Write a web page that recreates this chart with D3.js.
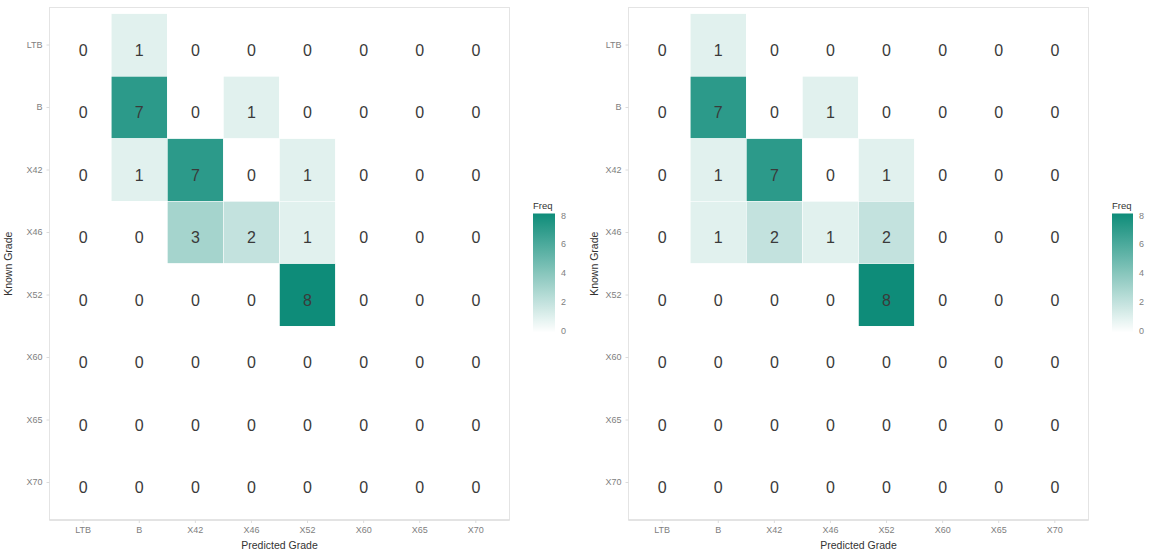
<!DOCTYPE html>
<html>
<head>
<meta charset="utf-8">
<script src="https://cdn.jsdelivr.net/npm/d3@7"></script>
<style>
  html, body { margin: 0; padding: 0; background: #ffffff; }
  svg { display: block; font-family: "Liberation Sans", Arial, Helvetica, sans-serif; }
</style>
</head>
<body>
<svg id="chart" width="1151" height="555"></svg>
<script>
// Grade categories (predicted along x, known along y)
const predictedGrades = ["LTB", "B", "X42", "X46", "X52", "X60", "X65", "X70"];
const knownGrades = ["LTB", "B", "X42", "X46", "X52", "X60", "X65", "X70"];

// Confusion counts, one row per known grade (columns follow predictedGrades)
const freqLeft = [
  [0, 1, 0, 0, 0, 0, 0, 0],
  [0, 7, 0, 1, 0, 0, 0, 0],
  [0, 1, 7, 0, 1, 0, 0, 0],
  [0, 0, 3, 2, 1, 0, 0, 0],
  [0, 0, 0, 0, 8, 0, 0, 0],
  [0, 0, 0, 0, 0, 0, 0, 0],
  [0, 0, 0, 0, 0, 0, 0, 0],
  [0, 0, 0, 0, 0, 0, 0, 0]
];
const freqRight = [
  [0, 1, 0, 0, 0, 0, 0, 0],
  [0, 7, 0, 1, 0, 0, 0, 0],
  [0, 1, 7, 0, 1, 0, 0, 0],
  [0, 1, 2, 1, 2, 0, 0, 0],
  [0, 0, 0, 0, 8, 0, 0, 0],
  [0, 0, 0, 0, 0, 0, 0, 0],
  [0, 0, 0, 0, 0, 0, 0, 0],
  [0, 0, 0, 0, 0, 0, 0, 0]
];
const legendTicks = [0, 2, 4, 6, 8];
const freqDomain = [0, 8];

const svg = d3.select("#chart");

const color = d3.scaleLinear()
  .domain(freqDomain)
  .range(["#ffffff", "#0e8c79"])
  .interpolate(d3.interpolateRgb);

// linear gradient used by both colour bars
const defs = svg.append("defs");
const grad = defs.append("linearGradient")
  .attr("id", "freqGrad")
  .attr("x1", 0).attr("y1", 1).attr("x2", 0).attr("y2", 0);
d3.range(0, 1.0001, 0.05).forEach(t => {
  grad.append("stop")
    .attr("offset", t)
    .attr("stop-color", color(freqDomain[0] + t * (freqDomain[1] - freqDomain[0])));
});

function drawPanel(matrix, frame, legend, yTitleX) {
  const g = svg.append("g");

  const x = d3.scaleBand()
    .domain(predictedGrades)
    .range([frame.x0, frame.x1])
    .paddingInner(0).paddingOuter(0.1);
  const y = d3.scaleBand()
    .domain(knownGrades)
    .range([frame.y0, frame.y1])
    .paddingInner(0).paddingOuter(0.1);

  const cells = [];
  matrix.forEach((row, i) => row.forEach((v, j) => {
    cells.push({ known: knownGrades[i], predicted: predictedGrades[j], freq: v });
  }));

  // panel border
  g.append("rect")
    .attr("x", frame.x0).attr("y", frame.y0)
    .attr("width", frame.x1 - frame.x0).attr("height", frame.y1 - frame.y0)
    .attr("fill", "#ffffff")
    .attr("stroke", "#e4e4e4").attr("stroke-width", 1);

  // tiles
  g.selectAll("rect.tile")
    .data(cells)
    .join("rect")
    .attr("class", "tile")
    .attr("x", d => x(d.predicted))
    .attr("y", d => y(d.known))
    .attr("width", x.bandwidth())
    .attr("height", y.bandwidth())
    .attr("fill", d => color(d.freq))
    .attr("stroke", "#ffffff")
    .attr("stroke-width", 0.5);

  // count labels
  g.selectAll("text.count")
    .data(cells)
    .join("text")
    .attr("class", "count")
    .attr("x", d => x(d.predicted) + x.bandwidth() / 2)
    .attr("y", d => y(d.known) + y.bandwidth() / 2 + 5)
    .attr("text-anchor", "middle")
    .attr("dominant-baseline", "central")
    .attr("font-size", 16)
    .attr("fill", "#3a3a3a")
    .text(d => d.freq);

  // bottom axis line (slightly darker)
  g.append("line")
    .attr("x1", frame.x0).attr("x2", frame.x1)
    .attr("y1", frame.y1).attr("y2", frame.y1)
    .attr("stroke", "#d6d6d6").attr("stroke-width", 1.2);

  // x axis
  const xAxis = g.append("g")
    .attr("transform", `translate(0,${frame.y1})`)
    .call(d3.axisBottom(x).tickSize(3).tickPadding(4));
  xAxis.select(".domain").remove();
  xAxis.selectAll(".tick line").attr("stroke", "#dcdcdc");
  xAxis.selectAll(".tick text")
    .attr("font-size", 9).attr("fill", "#808080")
    .attr("font-family", "Liberation Sans, Arial, sans-serif");

  // y axis
  const yAxis = g.append("g")
    .attr("transform", `translate(${frame.x0},0)`)
    .call(d3.axisLeft(y).tickSize(3).tickPadding(4));
  yAxis.select(".domain").remove();
  yAxis.selectAll(".tick line").attr("stroke", "#dcdcdc");
  yAxis.selectAll(".tick text")
    .attr("font-size", 9).attr("fill", "#808080")
    .attr("font-family", "Liberation Sans, Arial, sans-serif");

  // axis titles
  g.append("text")
    .attr("x", (frame.x0 + frame.x1) / 2)
    .attr("y", 549)
    .attr("text-anchor", "middle")
    .attr("font-size", 10.5)
    .attr("fill", "#333333")
    .text("Predicted Grade");

  g.append("text")
    .attr("transform", `translate(${yTitleX},${(frame.y0 + frame.y1) / 2}) rotate(-90)`)
    .attr("text-anchor", "middle")
    .attr("font-size", 10.5)
    .attr("fill", "#333333")
    .text("Known Grade");

  // colour bar legend
  const ly = d3.scaleLinear().domain(freqDomain).range([legend.yBottom, legend.yTop]);
  g.append("text")
    .attr("x", legend.x)
    .attr("y", legend.yTop - 7)
    .attr("font-size", 9.5)
    .attr("fill", "#333333")
    .text("Freq");
  g.append("rect")
    .attr("x", legend.x)
    .attr("y", legend.yTop - 2)
    .attr("width", legend.w)
    .attr("height", legend.yBottom - legend.yTop + 4)
    .attr("fill", "url(#freqGrad)");
  g.selectAll("text.ltick")
    .data(legendTicks)
    .join("text")
    .attr("class", "ltick")
    .attr("x", legend.x + legend.w + 6)
    .attr("y", d => ly(d))
    .attr("dominant-baseline", "central")
    .attr("font-size", 9)
    .attr("fill", "#808080")
    .text(d => d);
}

drawPanel(freqLeft,
  { x0: 49.5, x1: 509.5, y0: 7.5, y1: 520 },
  { x: 533, w: 22, yTop: 215.5, yBottom: 330.5 },
  12);

drawPanel(freqRight,
  { x0: 628.5, x1: 1088.5, y0: 7.5, y1: 520 },
  { x: 1112, w: 21, yTop: 215.5, yBottom: 330.5 },
  598);
</script>
</body>
</html>
